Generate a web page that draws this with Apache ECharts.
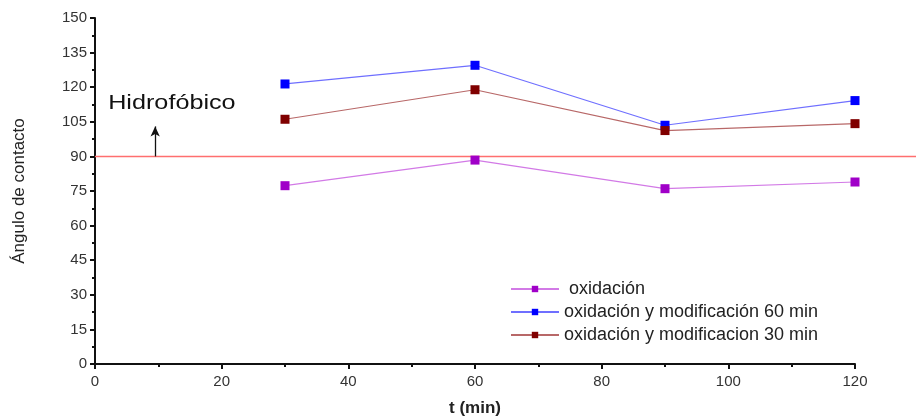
<!DOCTYPE html>
<html>
<head>
<meta charset="utf-8">
<script src="https://cdn.jsdelivr.net/npm/echarts@6/dist/echarts.min.js"></script>
<style>
  html, body { margin: 0; padding: 0; background: #fff; }
  #chart { width: 916px; height: 418px; }
</style>
</head>
<body>
<div id="chart"></div>
<script>
const times = [30, 60, 90, 120];
const oxidacion = [77.3, 88.4, 76.0, 78.9];
const modif60 = [121.4, 129.5, 103.5, 114.2];
const modif30 = [106.1, 118.9, 101.2, 104.2];
const seriesNames = [' oxidación', 'oxidación y modificación 60 min', 'oxidación y modificacion 30 min'];
const refAngle = 90;
const arrowX = 9.5;
const arrowTop = 103;

const pairs = (ys) => times.map((t, i) => [t, ys[i]]);
const font = 'Liberation Sans, Arial, sans-serif';

const chart = echarts.init(document.getElementById('chart'));

const lineSeries = (name, ys, lineColor, markColor) => ({
  name: name,
  type: 'line',
  data: pairs(ys),
  symbol: 'rect',
  symbolSize: 9,
  showAllSymbol: true,
  lineStyle: { color: lineColor, width: 1.2 },
  itemStyle: { color: markColor },
  z: 3,
});

const option = {
  animation: false,
  grid: [
    { left: 95, right: 61, top: 18, bottom: 54, outerBoundsMode: 'none' },
    { left: 95, right: 0, top: 18, bottom: 54, outerBoundsMode: 'none' },
  ],
  legend: {
    orient: 'vertical',
    left: 505,
    top: 275,
    itemWidth: 48,
    itemHeight: 8,
    itemGap: 5,
    textStyle: { fontFamily: font, fontSize: 18, color: '#222' },
    data: seriesNames,
  },
  xAxis: [
    {
      type: 'value',
      min: 0,
      max: 120,
      interval: 20,
      name: 't (min)',
      nameLocation: 'middle',
      nameGap: 36,
      nameTextStyle: { fontFamily: font, fontSize: 17, fontWeight: 'bold', color: '#222' },
      axisLine: { lineStyle: { color: '#111', width: 2 } },
      axisTick: { inside: false, length: 5, lineStyle: { color: '#111', width: 2 } },
      minorTick: { show: true, splitNumber: 2, length: 3, lineStyle: { color: '#111', width: 2 } },
      axisLabel: { fontFamily: font, fontSize: 15, color: '#333', margin: 10 },
      splitLine: { show: false },
    },
    { gridIndex: 1, type: 'value', min: 0, max: 1, show: false },
  ],
  yAxis: [
    {
      type: 'value',
      min: 0,
      max: 150,
      interval: 15,
      name: 'Ángulo de contacto',
      nameLocation: 'middle',
      nameGap: 67,
      nameRotate: 90,
      nameTextStyle: { fontFamily: font, fontSize: 17, color: '#222' },
      axisLine: { show: true, lineStyle: { color: '#111', width: 2 } },
      axisTick: { show: true, length: 5, lineStyle: { color: '#111', width: 2 } },
      minorTick: { show: true, splitNumber: 2, length: 3, lineStyle: { color: '#111', width: 2 } },
      axisLabel: { fontFamily: font, fontSize: 15, color: '#333', margin: 8 },
      splitLine: { show: false },
    },
    { gridIndex: 1, type: 'value', min: 0, max: 150, show: false },
  ],
  series: [
    {
      name: 'ref',
      type: 'line',
      xAxisIndex: 1,
      yAxisIndex: 1,
      data: [[0, refAngle], [1, refAngle]],
      symbol: 'none',
      lineStyle: { color: '#ff6f6f', width: 1.5 },
      z: 1,
      silent: true,
    },
    lineSeries(seriesNames[0], oxidacion, '#d27ae6', '#a000c8'),
    lineSeries(seriesNames[1], modif60, '#6f6fff', '#0000ff'),
    Object.assign(lineSeries(seriesNames[2], modif30, '#b86868', '#800000'), {
      markLine: {
        silent: true,
        symbol: ['none', 'arrow'],
        symbolSize: [7, 10],
        label: { show: false },
        lineStyle: { color: '#111', width: 1.3, type: 'solid' },
        data: [[{ coord: [arrowX, refAngle] }, { coord: [arrowX, arrowTop] }]],
      },
    }),
  ],
};
chart.setOption(option);

const p = chart.convertToPixel({ gridIndex: 0 }, [arrowX, arrowTop]);
chart.setOption({
  graphic: [{
    type: 'text',
    x: p[0] - 47,
    y: p[1] - 34,
    scaleX: 1.2,
    style: { text: 'Hidrofóbico', fontFamily: font, fontSize: 21, fill: '#111' },
  }],
});
</script>
</body>
</html>
